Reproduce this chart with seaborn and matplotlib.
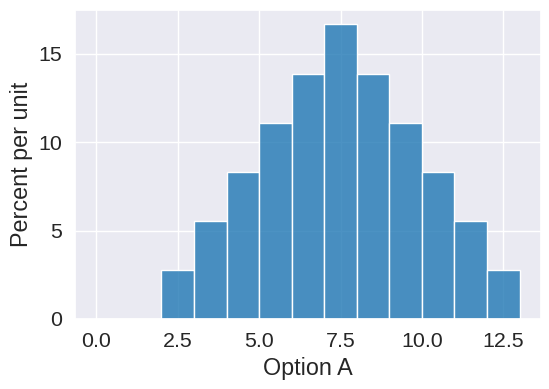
import numpy as np
import pandas as pd
import matplotlib
matplotlib.use("Agg")
import matplotlib.pyplot as plt
import seaborn as sns

# outcomes and how often they occur (sum of two dice)
outcomes = [2, 3, 4, 5, 6, 7, 8, 9, 10, 11, 12]
counts = [1, 2, 3, 4, 5, 6, 5, 4, 3, 2, 1]
bin_edges = list(range(0, 14))
y_ticks = [0, 5, 10, 15]

df = pd.DataFrame({"Option A": outcomes, "count": counts})

sns.set_theme(style="darkgrid", font_scale=1.4)
plt.rcParams["font.family"] = ["Liberation Sans", "DejaVu Sans"]

fig, ax = plt.subplots(figsize=(5.49, 3.89), dpi=100)
sns.histplot(data=df, x="Option A", weights="count", bins=bin_edges,
             stat="percent", color="#1f77b4", alpha=0.8, ax=ax)
ax.set_yticks(y_ticks)
ax.set_ylabel("Percent per unit")
ax.set_xlabel("Option A")

fig.subplots_adjust(left=0.137, right=0.985, top=0.975, bottom=0.18)
plt.savefig("out.png", dpi=100)
